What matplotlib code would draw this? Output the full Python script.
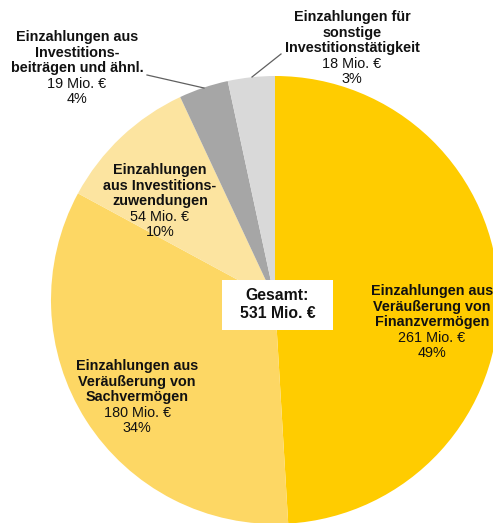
import matplotlib.pyplot as plt

# === Data ===
categories = [
    "Einzahlungen aus\nVeräußerung von\nFinanzvermögen",
    "Einzahlungen aus\nVeräußerung von\nSachvermögen",
    "Einzahlungen\naus Investitions-\nzuwendungen",
    "Einzahlungen aus\nInvestitions-\nbeiträgen und ähnl.",
    "Einzahlungen für\nsonstige\nInvestitionstätigkeit",
]
values = [261, 180, 54, 19, 18]
percents = [49, 34, 10, 4, 3]
total = 531

colors = ["#FFCC00", "#FDD764", "#FCE4A0", "#A6A6A6", "#D9D9D9"]

# label centers (pixels, top line y) and leader lines
label_pos = [(432, 291), (137, 366), (160, 170), (77, 37), (352, 17)]
leaders = {3: [(147, 75), (204, 88)], 4: [(252, 77), (281, 54)]}

W, H = 493, 523
fig = plt.figure(figsize=(W / 100, H / 100), dpi=100)
ax = fig.add_axes([0, 0, 1, 1])

ax.pie(values, colors=colors, startangle=270, counterclock=True,
       center=(275, 300), radius=224,
       wedgeprops=dict(edgecolor="none", linewidth=0))
ax.set_xlim(0, W)
ax.set_ylim(H, 0)
ax.axis("off")

font = "Liberation Sans"
fs = 10.4
step = 15.6
for i, (name, val, pct) in enumerate(zip(categories, values, percents)):
    x, y = label_pos[i]
    lines = name.split("\n")
    for j, ln in enumerate(lines):
        ax.text(x, y + j * step, ln, ha="center", va="center", fontsize=fs,
                fontweight="bold", family=font, color="#111111")
    n = len(lines)
    ax.text(x, y + n * step, f"{val} Mio. €", ha="center", va="center",
            fontsize=fs, family=font, color="#111111")
    ax.text(x, y + (n + 1) * step, f"{pct}%", ha="center", va="center",
            fontsize=fs, family=font, color="#111111")

for pts in leaders.values():
    xs, ys = zip(*pts)
    ax.plot(xs, ys, color="#606060", linewidth=0.9)

# total box
ax.add_patch(plt.Rectangle((222, 280), 111, 50, facecolor="white", edgecolor="none"))
ax.text(277.5, 296, "Gesamt:", ha="center", va="center", fontsize=11.3,
        fontweight="bold", family=font, color="#111111")
ax.text(277.5, 313, f"{total} Mio. €", ha="center", va="center", fontsize=11.3,
        fontweight="bold", family=font, color="#111111")

plt.savefig("out.png", dpi=100)
